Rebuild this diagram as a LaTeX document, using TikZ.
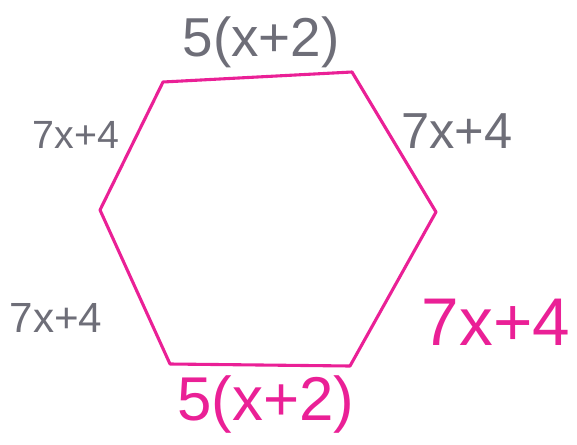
\documentclass[tikz,border=0pt]{standalone}
\usepackage{fontspec}
\setmainfont{Liberation Sans}
\usepackage{xcolor}
\usetikzlibrary{positioning}
\definecolor{penpink}{RGB}{234,32,150}
\definecolor{pencil}{RGB}{110,110,120}

\begin{document}
\begin{tikzpicture}[
    x=0.25mm, y=-0.25mm,
    side/.style={draw=penpink, line width=2.2pt, line join=round},
    graylabel/.style={text=pencil, inner sep=0pt},
    pinklabel/.style={text=penpink, inner sep=0pt}
]
\useasboundingbox (0,0) rectangle (577,444);
\coordinate (tl) at (163,82);
\coordinate (tr) at (352,72);
\coordinate (r)  at (436,212);
\coordinate (br) at (350,366);
\coordinate (bl) at (170,364);
\coordinate (l)  at (100,210);

\draw[side] (tl) -- (tr) -- (r) -- (br) -- (bl) -- (l) -- cycle;

\node[graylabel, font=\fontsize{39}{44}\selectfont] (top)   at (261,42)  {5(x+2)};
\node[graylabel, font=\fontsize{28}{32}\selectfont] (ulab)  at (76,135)  {7x+4};
\node[graylabel, font=\fontsize{36}{40}\selectfont] (urab)  at (457,131) {7x+4};
\node[graylabel, font=\fontsize{30}{34}\selectfont] (llab)  at (56,318)  {7x+4};
\node[pinklabel, font=\fontsize{48}{52}\selectfont] (lrab)  at (496,322) {7x+4};
\node[pinklabel, font=\fontsize{44}{48}\selectfont] (bot)   at (266,404) {5(x+2)};
\end{tikzpicture}
\end{document}
